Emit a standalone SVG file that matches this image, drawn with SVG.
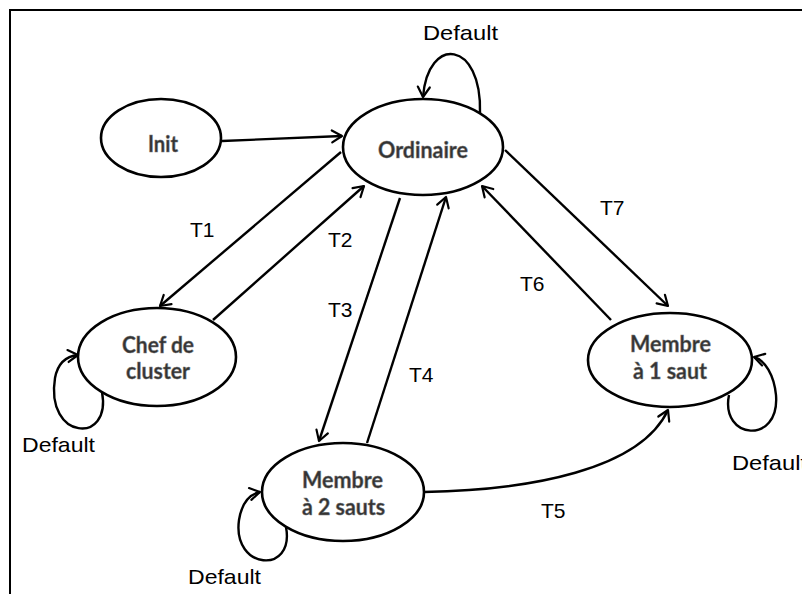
<svg xmlns="http://www.w3.org/2000/svg" width="802" height="594" viewBox="0 0 802 594">
<defs>
<marker id="arr" markerUnits="userSpaceOnUse" markerWidth="16" markerHeight="16" viewBox="0 0 16 16" refX="12" refY="8" orient="auto">
<path d="M2,2 L12,8 L2,14" fill="none" stroke="#000" stroke-width="2.2" stroke-linecap="round" stroke-linejoin="round"/>
</marker>
<style>
.node{fill:#fff;stroke:#000;stroke-width:2.6}
.nl{font-family:Lato,"Open Sans","DejaVu Sans",sans-serif;font-weight:bold;font-size:22px;fill:#333;stroke:#777;stroke-width:0.5}
.el{font-family:"Liberation Sans",Arial,sans-serif;font-size:21px;fill:#000}
.e{fill:none;stroke:#000;stroke-width:2.4;marker-end:url(#arr)}
.frame{stroke:#000;stroke-width:2;fill:none}
</style>
</defs>
<rect width="802" height="594" fill="#fff"/>
<path class="frame" d="M10,594 L10,10 L802,10"/>

<g id="connectors">
<path class="e" d="M222,141 L342,136"/>
<path class="e" d="M341,152 L160,306"/>
<path class="e" d="M213,320 L364,186"/>
<path class="e" d="M400,198 L319,441"/>
<path class="e" d="M367,443 L446,197"/>
<path class="e" d="M611,320 L482,186"/>
<path class="e" d="M505,150 L668,306"/>
<path class="e" d="M424,492 C530,490 640,470 668,410"/>
<path class="e" d="M480,113 C482,40 428,35 423,97"/>
<path class="e" d="M102,392 C112,445 45,440 55,378 C58,362 68,356 78,355"/>
<path class="e" d="M286,527 C295,575 232,570 239,520 C242,502 250,494 260,492"/>
<path class="e" d="M729,395 C720,440 780,445 776,395 C774,375 765,360 754,357"/>
<text class="el" x="423" y="40" textLength="75" lengthAdjust="spacingAndGlyphs">Default</text>
<text class="el" x="22" y="452" textLength="73" lengthAdjust="spacingAndGlyphs">Default</text>
<text class="el" x="188" y="584" textLength="73" lengthAdjust="spacingAndGlyphs">Default</text>
<text class="el" x="732" y="470" textLength="75" lengthAdjust="spacingAndGlyphs">Default</text>
<text class="el" x="190" y="237">T1</text>
<text class="el" x="328" y="247">T2</text>
<text class="el" x="328" y="317">T3</text>
<text class="el" x="409" y="382">T4</text>
<text class="el" x="541" y="518">T5</text>
<text class="el" x="520" y="291">T6</text>
<text class="el" x="600" y="215">T7</text>
</g>

<g id="init">
<ellipse class="node" cx="161" cy="138" rx="60" ry="39"/>
<text class="nl" x="148" y="152" textLength="30" lengthAdjust="spacingAndGlyphs">Init</text>
</g>
<g id="ordinaire">
<ellipse class="node" cx="423" cy="147" rx="80" ry="48"/>
<text class="nl" x="378" y="158" textLength="90" lengthAdjust="spacingAndGlyphs">Ordinaire</text>
</g>
<g id="chef">
<ellipse class="node" cx="157" cy="357" rx="79" ry="49"/>
<text class="nl" x="122" y="353" textLength="72" lengthAdjust="spacingAndGlyphs">Chef de</text>
<text class="nl" x="126" y="379" textLength="64" lengthAdjust="spacingAndGlyphs">cluster</text>
</g>
<g id="membre2">
<ellipse class="node" cx="343" cy="492" rx="81" ry="49"/>
<text class="nl" x="302" y="488" textLength="81" lengthAdjust="spacingAndGlyphs">Membre</text>
<text class="nl" x="302" y="515" textLength="83" lengthAdjust="spacingAndGlyphs">à 2 sauts</text>
</g>
<g id="membre1">
<ellipse class="node" cx="670" cy="360" rx="82" ry="47"/>
<text class="nl" x="630" y="352" textLength="81" lengthAdjust="spacingAndGlyphs">Membre</text>
<text class="nl" x="633" y="379" textLength="74" lengthAdjust="spacingAndGlyphs">à 1 saut</text>
</g>
</svg>
